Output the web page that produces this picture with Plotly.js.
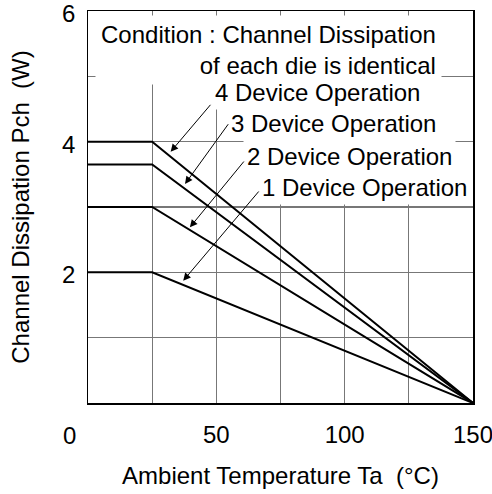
<!DOCTYPE html>
<html>
<head>
<meta charset="utf-8">
<script src="https://cdn.plot.ly/plotly-3.0.1.min.js"></script>
<style>html,body{margin:0;padding:0;background:#fff;}#chart{width:492px;height:494px;}</style>
</head>
<body>
<div id="chart"></div>
<script>
// Data
var tempPoints = [0, 25, 150];
var dev4 = [4.0, 4.0, 0];
var dev3 = [3.65, 3.65, 0];
var dev2 = [3.0, 3.0, 0];
var dev1 = [2.0, 2.0, 0];
var seriesNames = ['4 Device Operation', '3 Device Operation', '2 Device Operation', '1 Device Operation'];
var xTickVals = [0, 25, 50, 75, 100, 125, 150];
var xTickText = ['', '', '50', '', '100', '', '150'];
var yGridVals = [0, 1, 2, 3, 4, 5, 6];
var yLabelVals = [2, 4, 6];
var yLabelText = ['2', '4', '6'];

var FONT = 'Liberation Sans, Arial, sans-serif';
var FS = 24;

var series = [dev4, dev3, dev2, dev1];
var traces = series.map(function (s, i) {
  return {
    x: tempPoints, y: s, mode: 'lines', name: seriesNames[i],
    line: {color: '#000', width: 2}, hoverinfo: 'none'
  };
});

var labelPos = [
  {x: 214, y: 93},
  {x: 230, y: 124},
  {x: 246, y: 156},
  {x: 261, y: 187}
];
var arrows = [
  {ax: 48.2, ay: 4.587, x: 32.2, y: 3.846},
  {ax: 55.05, ay: 4.29, x: 37.8, y: 3.352},
  {ax: 61.2, ay: 3.719, x: 39.7, y: 2.689},
  {ax: 67.0, ay: 3.26, x: 37.1, y: 1.872}
];

var L = 88, R = 19, T = 11, B = 91, W = 492, H = 494;
var pw = W - L - R, ph = H - T - B;
function px2paperX(px) { return (px - L) / pw; }
function px2paperY(py) { return 1 - (py - T) / ph; }

var annotations = [];
annotations.push({
  xref: 'paper', yref: 'paper',
  x: px2paperX(442), y: px2paperY(50),
  xanchor: 'right', yanchor: 'middle', align: 'right',
  text: 'Condition : Channel Dissipation<br>of each die is identical',
  showarrow: false, bgcolor: '#fff', borderpad: 5,
  font: {family: FONT, size: FS, color: '#000'}
});
seriesNames.forEach(function (n, i) {
  annotations.push({
    xref: 'paper', yref: 'paper',
    x: px2paperX(labelPos[i].x - 3), y: px2paperY(labelPos[i].y),
    xanchor: 'left', yanchor: 'middle',
    text: n, showarrow: false, bgcolor: '#fff', borderpad: 3,
    font: {family: FONT, size: FS, color: '#000'}
  });
});
arrows.forEach(function (a) {
  annotations.push({
    xref: 'x', yref: 'y', axref: 'x', ayref: 'y',
    x: a.x, y: a.y, ax: a.ax, ay: a.ay, text: '',
    showarrow: true, arrowhead: 2, arrowsize: 1.5, arrowwidth: 1, arrowcolor: '#000'
  });
});
// y-axis value labels, positioned by the y scale
yLabelVals.forEach(function (v, i) {
  annotations.push({
    xref: 'paper', yref: 'y', x: 0, y: v, xshift: -11, yshift: -2.5,
    xanchor: 'right', yanchor: 'middle', text: yLabelText[i], showarrow: false,
    font: {family: FONT, size: FS, color: '#000'}
  });
});
annotations.push({
  xref: 'paper', yref: 'paper', x: px2paperX(69), y: px2paperY(435),
  xanchor: 'center', yanchor: 'middle', text: '0', showarrow: false,
  font: {family: FONT, size: FS, color: '#000'}
});

var layout = {
  width: W, height: H,
  margin: {l: L, r: R, t: T, b: B, pad: 0},
  paper_bgcolor: '#fff', plot_bgcolor: '#fff',
  showlegend: false,
  font: {family: FONT, size: FS, color: '#000'},
  xaxis: {
    range: [0, 150], tickvals: xTickVals, ticktext: xTickText,
    ticks: '', ticklabelstandoff: 10, ticklabeloverflow: 'allow',
    showgrid: true, gridcolor: '#777', gridwidth: 1.3,
    showline: true, linecolor: '#000', linewidth: 1.5, mirror: true,
    zeroline: false, fixedrange: true,
    tickfont: {family: FONT, size: FS, color: '#000'},
    title: {text: 'Ambient Temperature Ta\u00a0 (°C)', font: {family: FONT, size: FS, color: '#000'}, standoff: 20}
  },
  yaxis: {
    range: [0, 6], tickvals: yGridVals, showticklabels: false,
    ticks: '',
    showgrid: true, gridcolor: '#777', gridwidth: 1.3,
    showline: true, linecolor: '#000', linewidth: 1.5, mirror: true,
    zeroline: false, fixedrange: true,
    title: {text: 'Channel Dissipation Pch\u00a0 (W)', font: {family: FONT, size: FS, color: '#000'}, standoff: 50}
  },
  annotations: annotations
};

Plotly.newPlot('chart', traces, layout, {displayModeBar: false, staticPlot: true});
</script>
</body>
</html>
